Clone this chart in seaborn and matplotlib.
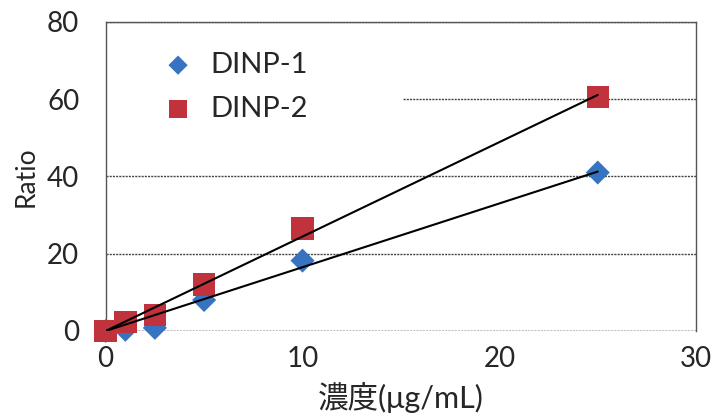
import matplotlib
matplotlib.use("Agg")
import matplotlib.pyplot as plt
import numpy as np
import pandas as pd
import seaborn as sns
from matplotlib.patches import Rectangle

# concentration (ug/mL) and ratio
conc = [0, 1, 2.5, 5, 10, 25]
dinp1 = [0, 0.3, 0.8, 8.0, 18.2, 41.0]
dinp2 = [0, 2.3, 4.1, 12.0, 26.5, 60.5]
series_names = ["DINP-1", "DINP-2"]
x_ticks = [0, 10, 20, 30]
y_ticks = [0, 20, 40, 60, 80]

sns.set_style("white")
plt.rcParams["font.family"] = ["Lato", "Noto Sans CJK JP", "DejaVu Sans"]

df = pd.DataFrame({
    "conc": conc * 2,
    "ratio": dinp1 + dinp2,
    "series": [series_names[0]] * len(conc) + [series_names[1]] * len(conc),
})

fig = plt.figure(figsize=(7.14, 4.2), dpi=100)
ax = fig.add_axes([0.148, 0.212, 0.827, 0.736])

palette = {"DINP-1": "#3673c0", "DINP-2": "#c0323c"}
markers = {"DINP-1": "D", "DINP-2": "s"}
sizes = {"DINP-1": 150, "DINP-2": 260}

# trend lines, least squares through origin
xs = np.array(conc, dtype=float)
for name, ys in zip(series_names, [dinp1, dinp2]):
    ys = np.array(ys)
    slope = (xs * ys).sum() / (xs * xs).sum()
    ax.plot([0, 25], [0, slope * 25], color="black", lw=1.5, zorder=4)

for name in series_names:
    sub = df[df.series == name]
    sns.scatterplot(data=sub, x="conc", y="ratio", ax=ax, color=palette[name],
                    marker=markers[name], s=sizes[name], edgecolor="none",
                    label=name, zorder=3, clip_on=False)

ax.set_xlim(0, 30)
ax.set_ylim(0, 80)
ax.set_xticks(x_ticks)
ax.set_yticks(y_ticks)
ax.grid(axis="y", color="#444444", linestyle=(0, (1.5, 0.8)), lw=1.0)
ax.set_axisbelow(True)
for s in ax.spines.values():
    s.set_color("#555555")
    s.set_linewidth(1.0)
ax.spines["bottom"].set_visible(False)
ax.axhline(0, color="#555555", linestyle=(0, (1.5, 0.8)), lw=1.0, zorder=1)
ax.tick_params(axis="both", labelsize=20, direction="out", length=7,
               width=1, color="#555555")
ax.tick_params(axis="y", pad=12)
ax.tick_params(axis="x", pad=4)

ax.set_xlabel("濃度(μg/mL)", fontsize=22, labelpad=7)
ax.set_ylabel("Ratio", fontsize=19, labelpad=6)

# white box behind the legend, hides the grid there
ax.add_patch(Rectangle((0.003, 0.6), 0.5, 0.39, transform=ax.transAxes,
                       facecolor="white", edgecolor="none", zorder=1))

leg = ax.legend(loc="upper left", bbox_to_anchor=(0.088, 0.903),
                frameon=False, fontsize=21, handlelength=1.4,
                handletextpad=0.4, labelspacing=0.62, borderpad=0,
                borderaxespad=0, markerscale=0.8)

fig.savefig("out.png", dpi=100)
